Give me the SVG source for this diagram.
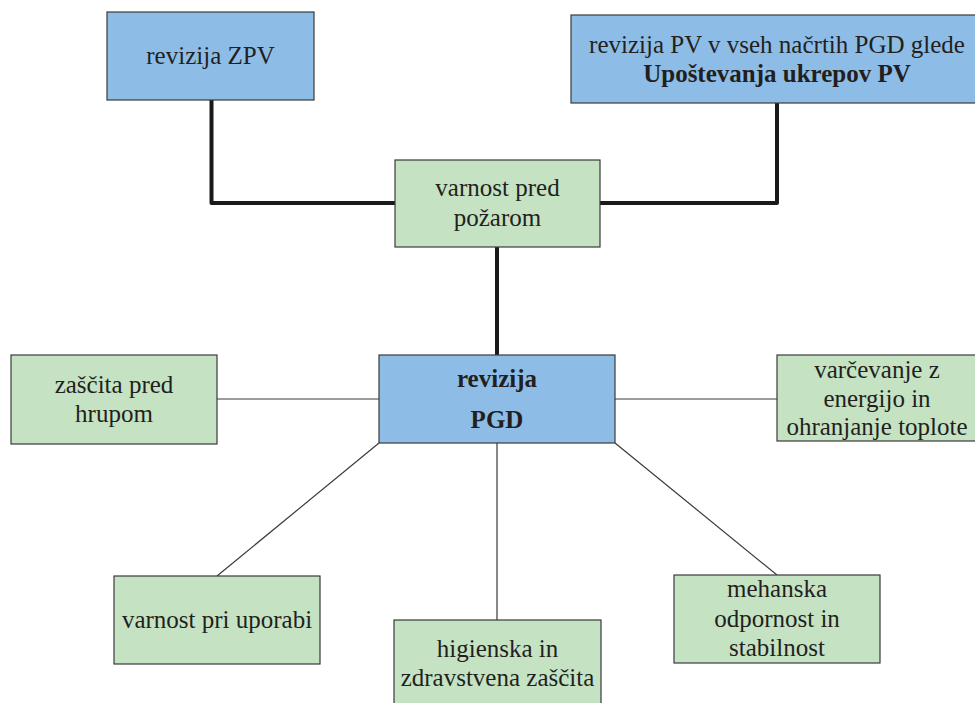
<svg xmlns="http://www.w3.org/2000/svg" width="975" height="703" viewBox="0 0 975 703">
  <style>
    .blue { fill: #8dbde6; stroke: #3a3a3a; stroke-width: 1.2; }
    .green { fill: #c5e3c3; stroke: #3a3a3a; stroke-width: 1.2; }
    .lbl { font-family: 'Liberation Serif', 'Times New Roman', serif; font-size: 25px; fill: #231f20; text-anchor: middle; }
    .b { font-weight: bold; }
    .thick { fill: none; stroke: #1a1a1a; stroke-width: 4; stroke-linejoin: round; }
    .thin { fill: none; stroke: #3a3a3a; stroke-width: 1.2; }
  </style>
  <rect width="975" height="703" fill="#ffffff"/>

  <g id="connectors">
    <polyline class="thick" points="211.5,100 211.5,203 395,203"/>
    <polyline class="thick" points="777,103 777,203 600,203"/>
    <line class="thick" x1="497" y1="247" x2="497" y2="355"/>
    <line class="thin" x1="217" y1="399" x2="379" y2="399"/>
    <line class="thin" x1="615" y1="399" x2="777" y2="399"/>
    <line class="thin" x1="379" y1="443" x2="217" y2="576"/>
    <line class="thin" x1="497" y1="443" x2="497" y2="620"/>
    <line class="thin" x1="615" y1="443" x2="777" y2="575"/>
  </g>

  <g id="revizija-zpv">
    <rect class="blue" x="107" y="12" width="207" height="88"/>
    <text class="lbl" x="210.5" y="64">revizija ZPV</text>
  </g>

  <g id="revizija-pv">
    <rect class="blue" x="571" y="15" width="412" height="88"/>
    <text class="lbl" x="777" y="53">revizija PV v vseh načrtih PGD glede</text>
    <text class="lbl b" x="777" y="82">Upoštevanja ukrepov PV</text>
  </g>

  <g id="varnost-pred-pozarom">
    <rect class="green" x="395" y="160" width="205" height="87"/>
    <text class="lbl" x="497.5" y="196">varnost pred</text>
    <text class="lbl" x="497.5" y="226">požarom</text>
  </g>

  <g id="revizija-pgd">
    <rect class="blue" x="379" y="355" width="236" height="88"/>
    <text class="lbl b" x="497" y="387">revizija</text>
    <text class="lbl b" x="497" y="428">PGD</text>
  </g>

  <g id="zascita-pred-hrupom">
    <rect class="green" x="11" y="355" width="206" height="89"/>
    <text class="lbl" x="114" y="393">zaščita pred</text>
    <text class="lbl" x="114" y="422">hrupom</text>
  </g>

  <g id="varcevanje-z-energijo">
    <rect class="green" x="777" y="355" width="206" height="86"/>
    <text class="lbl" x="877" y="378">varčevanje z</text>
    <text class="lbl" x="877" y="407">energijo in</text>
    <text class="lbl" x="877" y="435">ohranjanje toplote</text>
  </g>

  <g id="varnost-pri-uporabi">
    <rect class="green" x="114" y="576" width="206" height="88"/>
    <text class="lbl" x="217" y="628">varnost pri uporabi</text>
  </g>

  <g id="higienska-zascita">
    <rect class="green" x="394" y="620" width="207" height="90"/>
    <text class="lbl" x="497.5" y="657">higienska in</text>
    <text class="lbl" x="497.5" y="686">zdravstvena zaščita</text>
  </g>

  <g id="mehanska-odpornost">
    <rect class="green" x="674" y="575" width="206" height="88"/>
    <text class="lbl" x="777" y="597">mehanska</text>
    <text class="lbl" x="777" y="627">odpornost in</text>
    <text class="lbl" x="777" y="656">stabilnost</text>
  </g>
</svg>
